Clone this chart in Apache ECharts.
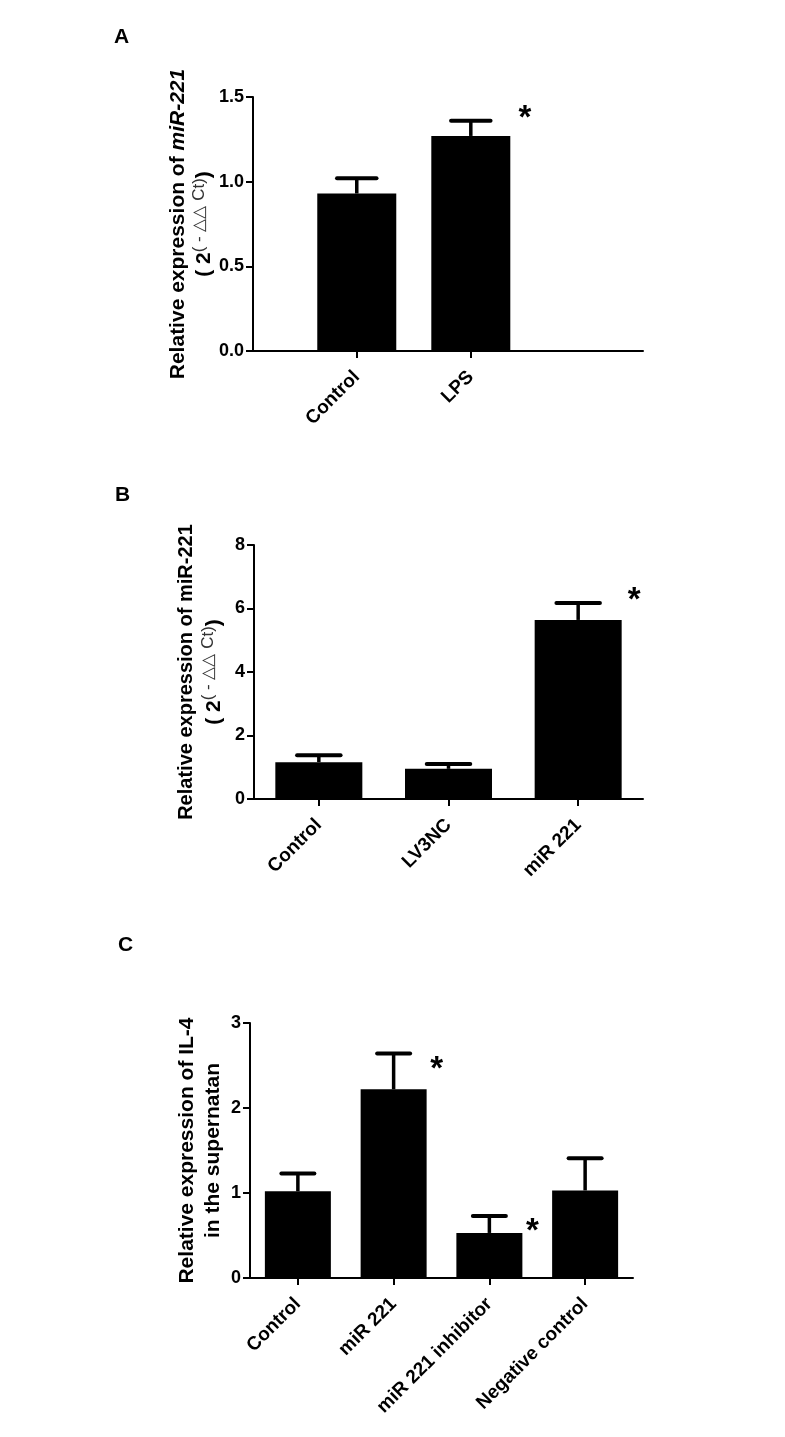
<!DOCTYPE html>
<html><head><meta charset="utf-8">
<script src="https://cdn.jsdelivr.net/npm/echarts@6/dist/echarts.min.js"></script>
<style>html,body{margin:0;padding:0;background:#fff}#c{width:785px;height:1437px}</style>
</head><body><div id="c"></div>
<script>
// ---- Panel A ----
const catA = ['Control', 'LPS'];
const valA = [0.93, 1.27];
const errA = [0.09, 0.09];
const sigA = [0, 1];
const ticksA = [0, 0.5, 1.0, 1.5];
// ---- Panel B ----
const catB = ['Control', 'LV3NC', 'miR 221'];
const valB = [1.16, 0.95, 5.64];
const errB = [0.22, 0.15, 0.53];
const sigB = [0, 0, 1];
const ticksB = [0, 2, 4, 6, 8];
// ---- Panel C ----
const catC = ['Control', 'miR 221', 'miR 221 inhibitor', 'Negative control'];
const valC = [1.02, 2.22, 0.53, 1.03];
const errC = [0.21, 0.42, 0.20, 0.38];
const sigC = [0, 1, 1, 0];
const ticksC = [0, 1, 2, 3];

const FONT = '"Liberation Sans", Arial, sans-serif';
const chart = echarts.init(document.getElementById('c'), null, {renderer: 'canvas'});

const axisLine = {show: true, lineStyle: {color: '#000', width: 2}};
const axisTick = {show: true, length: 7, lineStyle: {color: '#000', width: 2}};
function yLab(fmt) {
  return {color: '#000', fontWeight: 'bold', fontSize: 18, fontFamily: FONT, margin: 9, formatter: fmt};
}
function yAxisFor(ticks, grid, extra, fmt) {
  return Object.assign({
    type: 'value', gridIndex: grid,
    min: ticks[0], max: ticks[ticks.length - 1], interval: ticks[1] - ticks[0],
    axisLine, axisTick, splitLine: {show: false}, axisLabel: yLab(fmt),
    nameLocation: 'middle', nameRotate: 90
  }, extra);
}
const xLab = {color: '#000', fontWeight: 'bold', fontSize: 19, fontFamily: FONT, rotate: 45, margin: 23};

function errRender(barW, sdx, sdy) {
  return function (params, api) {
    const x = api.value(0), v = api.value(1), e = api.value(2), s = api.value(3);
    const p0 = api.coord([x, v]);
    const p1 = api.coord([x, v + e]);
    const hw = barW / 4;
    const ch = [
      {type: 'line', shape: {x1: p0[0], y1: p0[1], x2: p1[0], y2: p1[1]}, style: {stroke: '#000', lineWidth: 3.5}},
      {type: 'line', shape: {x1: p1[0] - hw, y1: p1[1], x2: p1[0] + hw, y2: p1[1]}, style: {stroke: '#000', lineWidth: 4, lineCap: 'round'}}
    ];
    if (s) ch.push({type: 'text', x: p1[0] + sdx, y: p1[1] + sdy,
      style: {text: '*', font: 'bold 33px ' + FONT, fill: '#000', align: 'center', verticalAlign: 'middle'}});
    return {type: 'group', children: ch};
  };
}

const supStyle = (lh) => ({fontSize: 17, fontFamily: FONT, color: '#333', verticalAlign: 'top', lineHeight: lh});

const option = {
  backgroundColor: '#fff',
  animation: false,
  grid: [
    {left: 253, top: 97, width: 390, height: 254},
    {left: 254, top: 545, width: 389, height: 254},
    {left: 250, top: 1023, width: 383, height: 255}
  ],
  graphic: [
    {type: 'text', left: 114, top: 27, style: {text: 'A', font: 'bold 21px ' + FONT, fill: '#000'}},
    {type: 'text', left: 115, top: 485, style: {text: 'B', font: 'bold 21px ' + FONT, fill: '#000'}},
    {type: 'text', left: 118, top: 935, style: {text: 'C', font: 'bold 21px ' + FONT, fill: '#000'}}
  ],
  xAxis: [
    {type: 'value', gridIndex: 0, min: 0.09, max: 3.51, axisLine, splitLine: {show: false},
      axisTick: Object.assign({customValues: catA.map((c, i) => i + 1)}, axisTick),
      axisLabel: Object.assign({customValues: catA.map((c, i) => i + 1), formatter: v => catA[Math.round(v) - 1] || ''}, xLab)},
    {type: 'category', gridIndex: 1, data: catB, axisLine, axisTick: Object.assign({alignWithLabel: true}, axisTick), axisLabel: xLab},
    {type: 'category', gridIndex: 2, data: catC, axisLine, axisTick: Object.assign({alignWithLabel: true}, axisTick), axisLabel: xLab}
  ],
  yAxis: [
    yAxisFor(ticksA, 0, {
      name: '{a|Relative expression of }{ai|miR-221}\n{b|( 2}{s|( - △△ Ct)}{b|)}',
      nameGap: 36,
      nameTextStyle: {color: '#000', rich: {
        a: {fontSize: 21, fontWeight: 'bold', fontFamily: FONT, color: '#000', lineHeight: 26},
        ai: {fontSize: 21, fontWeight: 'bold', fontStyle: 'italic', fontFamily: FONT, color: '#000', lineHeight: 26},
        b: {fontSize: 21, fontWeight: 'bold', fontFamily: FONT, color: '#000', lineHeight: 26},
        s: supStyle(26)
      }}
    }, v => v.toFixed(1)),
    yAxisFor(ticksB, 1, {
      name: '{a|Relative expression of miR-221}\n{b|( 2}{s|( - △△ Ct)}{b|)}',
      nameGap: 26,
      nameTextStyle: {color: '#000', rich: {
        a: {fontSize: 20, fontWeight: 'bold', fontFamily: FONT, color: '#000', lineHeight: 28},
        b: {fontSize: 21, fontWeight: 'bold', fontFamily: FONT, color: '#000', lineHeight: 28},
        s: supStyle(28)
      }}
    }, v => String(v)),
    yAxisFor(ticksC, 2, {
      name: 'Relative expression of IL-4\nin the supernatan',
      nameGap: 24,
      nameTextStyle: {color: '#000', fontSize: 21, fontWeight: 'bold', fontFamily: FONT, lineHeight: 26}
    }, v => String(v))
  ],
  series: [
    {type: 'bar', xAxisIndex: 0, yAxisIndex: 0, barWidth: 79, itemStyle: {color: '#000'},
      data: valA.map((v, i) => [i + 1, v])},
    {type: 'custom', xAxisIndex: 0, yAxisIndex: 0, encode: {x: 0, y: 1}, z: 5,
      renderItem: errRender(79, 54, -2), data: valA.map((v, i) => [i + 1, v, errA[i], sigA[i]])},
    {type: 'bar', xAxisIndex: 1, yAxisIndex: 1, barWidth: 87, itemStyle: {color: '#000'}, data: valB},
    {type: 'custom', xAxisIndex: 1, yAxisIndex: 1, encode: {x: 0, y: 1}, z: 5,
      renderItem: errRender(87, 56, -2), data: valB.map((v, i) => [i, v, errB[i], sigB[i]])},
    {type: 'bar', xAxisIndex: 2, yAxisIndex: 2, barWidth: 66, itemStyle: {color: '#000'}, data: valC},
    {type: 'custom', xAxisIndex: 2, yAxisIndex: 2, encode: {x: 0, y: 1}, z: 5,
      renderItem: errRender(66, 43, 16), data: valC.map((v, i) => [i, v, errC[i], sigC[i]])}
  ]
};
chart.setOption(option);
</script>
</body></html>
